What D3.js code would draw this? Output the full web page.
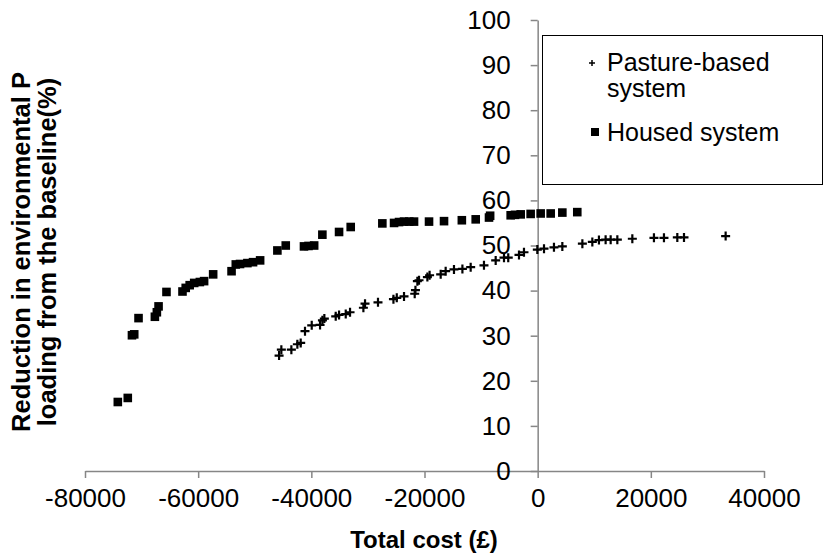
<!DOCTYPE html>
<html>
<head>
<meta charset="utf-8">
<script src="https://cdn.jsdelivr.net/npm/d3@7"></script>
<style>
  body { margin: 0; background: #fff; }
  svg text { font-family: "Liberation Sans", Arial, sans-serif; }
</style>
</head>
<body>
<svg id="chart" width="824" height="557"></svg>
<script>
// housed system: total cost (£) and reduction (%)
var housedCost = [-74200, -72440, -71700, -71300, -70540, -67650, -67300, -67000, -65600, -62770,
  -62200, -61500, -60700, -59700, -58950, -57350, -54100, -53350, -52600, -51300,
  -50300, -49050, -46000, -44520, -41300, -40500, -39500, -38050, -35100, -33040,
  -27450, -25380, -24500, -23620, -22700, -21850, -19200, -16550, -13400, -10950,
  -8600, -8400, -4770, -4000, -3000, -1240, 530, 2300, 4360, 7000];
var housedRed = [15.3, 16.2, 30.1, 30.3, 33.9, 34.2, 35.2, 36.5, 39.7, 39.8,
  40.6, 41.2, 41.7, 41.9, 42.1, 43.6, 44.3, 45.8, 45.9, 46.1,
  46.3, 46.7, 48.9, 50.0, 49.8, 49.9, 50.0, 52.4, 53.0, 54.1,
  54.9, 55.0, 55.2, 55.3, 55.3, 55.3, 55.3, 55.4, 55.6, 55.8,
  56.2, 56.6, 56.7, 56.8, 56.9, 57.0, 57.1, 57.1, 57.3, 57.4];

// pasture-based system
var pastureCost = [-45700, -45300, -43530, -42470, -41880, -41120, -39930, -38460, -38040, -37700,
  -35690, -35100, -33920, -33160, -30800, -30510, -28220, -25490, -24900, -23620,
  -21730, -21600, -21260, -20970, -19490, -19100, -17140, -16260, -14790, -13300,
  -11840, -9490, -7420, -5950, -5200, -3300, -2420, -60, 1120, 2880,
  4360, 7900, 9660, 10830, 12010, 12900, 14080, 16730, 20550, 22320,
  24680, 25860, 33220];
var pastureRed = [25.6, 26.9, 26.9, 28.1, 28.4, 31.0, 32.3, 32.4, 33.4, 33.8,
  34.3, 34.6, 34.8, 35.2, 36.2, 37.1, 37.4, 38.1, 38.4, 38.7,
  39.3, 40.1, 42.1, 42.3, 43.0, 43.4, 43.6, 44.3, 44.7, 44.8,
  45.2, 45.6, 46.7, 47.3, 47.3, 47.9, 48.5, 49.1, 49.3, 49.6,
  49.8, 50.4, 50.8, 51.2, 51.3, 51.3, 51.3, 51.5, 51.7, 51.7,
  51.8, 51.8, 52.1];

var xTicks = [-80000, -60000, -40000, -20000, 0, 20000, 40000];
var yTicks = [0, 10, 20, 30, 40, 50, 60, 70, 80, 90, 100];

var svg = d3.select("#chart");

var x = d3.scaleLinear().domain([-80000, 40000]).range([85, 764]);
var y = d3.scaleLinear().domain([0, 100]).range([471, 20]);

var axisColor = "#868686";

// x axis, crossing at y = 0
var gx = svg.append("g")
  .attr("transform", "translate(0," + y(0) + ")")
  .call(d3.axisBottom(x).tickValues(xTicks).tickSize(7).tickSizeOuter(0).tickPadding(11));

// y axis, crossing at x = 0
var gy = svg.append("g")
  .attr("transform", "translate(" + x(0) + ",0)")
  .call(d3.axisLeft(y).tickValues(yTicks).tickSize(7).tickSizeOuter(0).tickPadding(20));

[gx, gy].forEach(function(g) {
  g.select(".domain").attr("stroke", axisColor).attr("stroke-width", 1.5);
  g.selectAll(".tick line").attr("stroke", axisColor).attr("stroke-width", 1.5);
  g.selectAll(".tick text")
    .attr("fill", "#000")
    .style("font-size", "26px")
    .style("font-family", "'Liberation Sans', Arial, sans-serif");
});
gx.selectAll(".tick text").text(function(d) { return String(d); });

var housed = d3.zip(housedCost, housedRed);
var pasture = d3.zip(pastureCost, pastureRed);

svg.append("g").selectAll("rect")
  .data(housed).enter()
  .append("rect")
  .attr("x", function(d) { return x(d[0]) - 4.3; })
  .attr("y", function(d) { return y(d[1]) - 4.3; })
  .attr("width", 8.6)
  .attr("height", 8.6)
  .attr("fill", "#000");

svg.append("g").selectAll("path")
  .data(pasture).enter()
  .append("path")
  .attr("transform", function(d) { return "translate(" + x(d[0]) + "," + y(d[1]) + ")"; })
  .attr("d", "M-4.5,0H4.5M0,-4.5V4.5")
  .attr("stroke", "#000")
  .attr("stroke-width", 2.2)
  .attr("fill", "none");

// legend
var lg = svg.append("g");
lg.append("rect")
  .attr("x", 542.5).attr("y", 35.5)
  .attr("width", 280).attr("height", 149)
  .attr("fill", "#fff").attr("stroke", "#000").attr("stroke-width", 1);
lg.append("path")
  .attr("d", "M589,63H595M592,60V66")
  .attr("stroke", "#000").attr("stroke-width", 1.5);
lg.append("rect")
  .attr("x", 591).attr("y", 128).attr("width", 8).attr("height", 8).attr("fill", "#000");
lg.append("text").attr("x", 607).attr("y", 71).style("font-size", "25px").text("Pasture-based");
lg.append("text").attr("x", 607).attr("y", 97).style("font-size", "25px").text("system");
lg.append("text").attr("x", 607).attr("y", 141).style("font-size", "25px").text("Housed system");

// axis titles
svg.append("text")
  .attr("x", 424).attr("y", 548)
  .attr("text-anchor", "middle")
  .style("font-size", "24px").style("font-weight", "bold")
  .text("Total cost (£)");

var yt = svg.append("text")
  .attr("transform", "translate(0,252) rotate(-90)")
  .attr("text-anchor", "middle")
  .style("font-size", "25.5px").style("font-weight", "bold");
yt.append("tspan").attr("x", 0).attr("y", 30).text("Reduction in environmental P");
yt.append("tspan").attr("x", 0).attr("y", 56).text("loading from the baseline(%)");
</script>
</body>
</html>
